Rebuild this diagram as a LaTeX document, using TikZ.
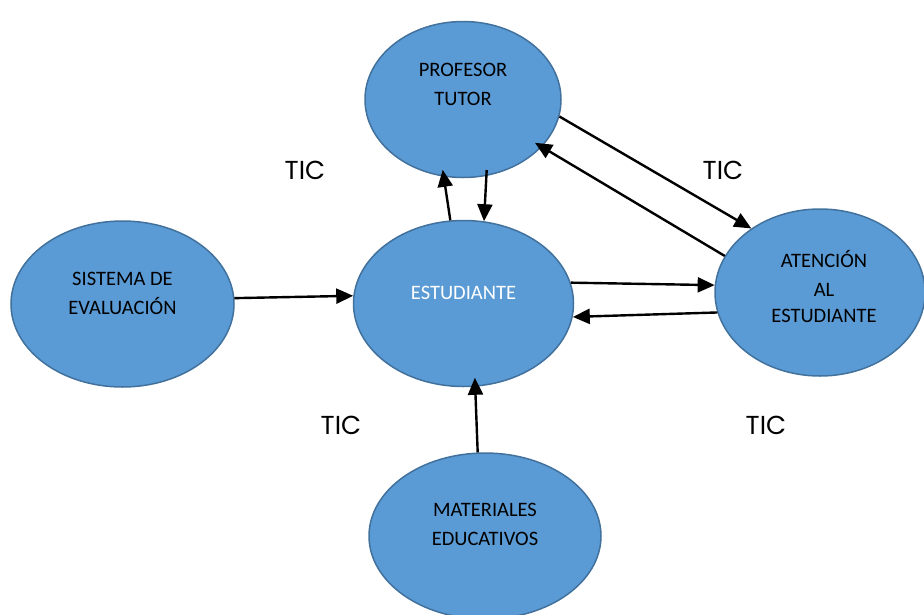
\documentclass[tikz,border=0pt]{standalone}
\usepackage{fontspec}
\setmainfont{Carlito}
\newfontfamily\ticfont{Poppins}
\usetikzlibrary{shapes.geometric,arrows.meta}
\definecolor{bubblefill}{HTML}{5B9BD5}
\definecolor{bubbleline}{HTML}{41719C}

\begin{document}
\begin{tikzpicture}[x=1pt, y=-1pt]
    \tikzset{
      bubble/.style={ellipse, draw=bubbleline, line width=1.5pt,
        fill=bubblefill, inner sep=0pt},
      caption/.style={align=center, font=\fontsize{20.5}{29}\selectfont},
      tic/.style={font=\ticfont\fontsize{26}{30}\selectfont},
      link/.style={line width=2.4pt, -{Triangle[length=17pt, width=15pt]}},
    }
    \useasboundingbox (0,0) rectangle (924,614);

    \path
    foreach \name/\x/\y/\rx/\ry in {
      prof/463/99.5/98/78,
      sist/122.5/304/111.5/83,
      est/463.5/303.5/110/83,
      aten/820/292.5/105/83.5,
      mat/485/536/116/83
    } { (\x,\y) node[bubble, minimum width=2*\rx, minimum height=2*\ry] (\name) {} };

    \node[caption] (prof-txt) at ([yshift=15.5pt]prof.center) {PROFESOR\\TUTOR};
    \node[caption] (sist-txt) at ([yshift=11pt]sist.center) {SISTEMA DE\\EVALUACIÓN};
    \node[caption, text=white] (est-txt) at ([yshift=10.5pt]est.center) {ESTUDIANTE};
    \node[caption] (aten-txt) at ([xshift=4pt, yshift=6pt]aten.center)
      {ATENCIÓN\\AL\\[-3pt]ESTUDIANTE};
    \node[caption] (mat-txt) at ([yshift=11.5pt]mat.center) {MATERIALES\\EDUCATIVOS};

    \draw[link, shorten >=-7pt] (est.99) -- (prof.256);
    \draw[link, shorten <=-6pt] (prof.-73) -- (est.76);
    \draw[link] (prof.-10) -- (aten.137);
    \draw[link, shorten >=-8pt] (aten.159) -- (prof.-31);
    \draw[link] (est.11) -- (aten.176);
    \draw[link] (aten.191) -- (est.-7.5);
    \draw[link] (sist.3) -- (est.176);
    \draw[link, shorten >=-9pt] (mat.95) -- (est.-82.6);

    \path
    foreach \x/\y [count=\i] in {305/170, 723/170, 341/425, 766/425} {
      (\x,\y) node[tic] (tic-\i) {TIC}
    };
\end{tikzpicture}
\end{document}
